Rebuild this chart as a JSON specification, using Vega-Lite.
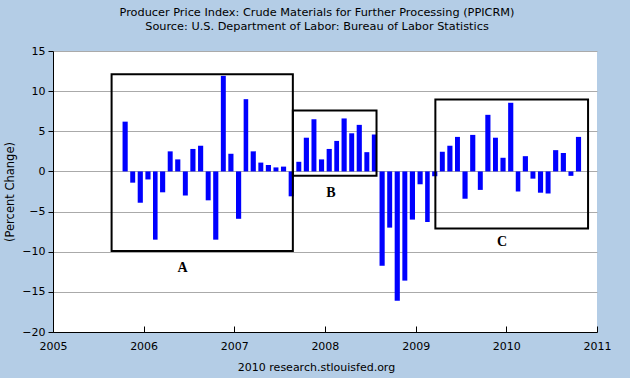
{
  "$schema": "https://vega.github.io/schema/vega-lite/v6.json",
  "width": 544,
  "height": 281,
  "autosize": {"type": "none"},
  "padding": {"left": 53, "top": 51, "right": 33, "bottom": 46},
  "background": "#b4cde6",
  "title": {
    "text": ["Producer Price Index: Crude Materials for Further Processing (PPICRM)", "Source: U.S. Department of Labor: Bureau of Labor Statistics"],
    "anchor": "middle",
    "fontSize": 11.3,
    "fontWeight": "normal",
    "color": "#000000",
    "lineHeight": 14,
    "offset": 13,
    "dx": -8
  },
  "config": {
    "font": "DejaVu Sans",
    "title": {"font": "DejaVu Sans"},
    "text": {"font": "Liberation Serif"},
    "view": {"fill": "#ffffff", "stroke": null},
    "axis": {"labelFont": "DejaVu Sans", "labelFontSize": 11, "labelColor": "#000000", "titleFont": "DejaVu Sans", "titleFontSize": 11, "titleFontWeight": "normal", "titleColor": "#000000", "domainColor": "#000000", "tickColor": "#000000"}
  },
  "datasets": {
    "ppi": [
      {"date": "2005-10-01", "value": 6.2},
      {"date": "2005-11-01", "value": -1.4},
      {"date": "2005-12-01", "value": -3.9},
      {"date": "2006-01-01", "value": -1.0},
      {"date": "2006-02-01", "value": -8.5},
      {"date": "2006-03-01", "value": -2.6},
      {"date": "2006-04-01", "value": 2.5},
      {"date": "2006-05-01", "value": 1.5},
      {"date": "2006-06-01", "value": -3.0},
      {"date": "2006-07-01", "value": 2.8},
      {"date": "2006-08-01", "value": 3.2},
      {"date": "2006-09-01", "value": -3.6},
      {"date": "2006-10-01", "value": -8.5},
      {"date": "2006-11-01", "value": 11.9},
      {"date": "2006-12-01", "value": 2.2},
      {"date": "2007-01-01", "value": -5.9},
      {"date": "2007-02-01", "value": 9.0},
      {"date": "2007-03-01", "value": 2.5},
      {"date": "2007-04-01", "value": 1.1},
      {"date": "2007-05-01", "value": 0.8},
      {"date": "2007-06-01", "value": 0.5},
      {"date": "2007-07-01", "value": 0.6},
      {"date": "2007-08-01", "value": -3.1},
      {"date": "2007-09-01", "value": 1.2},
      {"date": "2007-10-01", "value": 4.2},
      {"date": "2007-11-01", "value": 6.5},
      {"date": "2007-12-01", "value": 1.5},
      {"date": "2008-01-01", "value": 2.8},
      {"date": "2008-02-01", "value": 3.8},
      {"date": "2008-03-01", "value": 6.6},
      {"date": "2008-04-01", "value": 4.75},
      {"date": "2008-05-01", "value": 5.8},
      {"date": "2008-06-01", "value": 2.4},
      {"date": "2008-07-01", "value": 4.6},
      {"date": "2008-08-01", "value": -11.75},
      {"date": "2008-09-01", "value": -7.0},
      {"date": "2008-10-01", "value": -16.1},
      {"date": "2008-11-01", "value": -13.6},
      {"date": "2008-12-01", "value": -6.0},
      {"date": "2009-01-01", "value": -1.6},
      {"date": "2009-02-01", "value": -6.3},
      {"date": "2009-03-01", "value": -0.6},
      {"date": "2009-04-01", "value": 2.45},
      {"date": "2009-05-01", "value": 3.2},
      {"date": "2009-06-01", "value": 4.3},
      {"date": "2009-07-01", "value": -3.4},
      {"date": "2009-08-01", "value": 4.55},
      {"date": "2009-09-01", "value": -2.3},
      {"date": "2009-10-01", "value": 7.05},
      {"date": "2009-11-01", "value": 4.2},
      {"date": "2009-12-01", "value": 1.7},
      {"date": "2010-01-01", "value": 8.55},
      {"date": "2010-02-01", "value": -2.5},
      {"date": "2010-03-01", "value": 1.9},
      {"date": "2010-04-01", "value": -0.9},
      {"date": "2010-05-01", "value": -2.65},
      {"date": "2010-06-01", "value": -2.75},
      {"date": "2010-07-01", "value": 2.65},
      {"date": "2010-08-01", "value": 2.3},
      {"date": "2010-09-01", "value": -0.55},
      {"date": "2010-10-01", "value": 4.3}
    ],
    "boxes": [
      {"name": "A", "start": "2005-08-25", "end": "2007-08-25", "top": 12.1, "bottom": -9.9},
      {"name": "B", "start": "2007-08-25", "end": "2008-07-27", "top": 7.6, "bottom": -0.55},
      {"name": "C", "start": "2009-03-21", "end": "2010-11-26", "top": 8.95, "bottom": -7.1}
    ],
    "labels": [
      {"name": "A", "date": "2006-06-07", "value": -12.0},
      {"name": "B", "date": "2008-01-25", "value": -2.7},
      {"name": "C", "date": "2009-12-15", "value": -8.75}
    ]
  },
  "layer": [
    {
      "data": {"name": "ppi"},
      "mark": {"type": "bar", "color": "#0000ff", "width": {"band": 0.8}},
      "encoding": {
        "x": {
          "field": "date", "type": "temporal", "timeUnit": "utcyearmonth",
          "title": "2010 research.stlouisfed.org",
          "scale": {"type": "utc", "domain": ["2005-01-01", "2011-01-01"], "nice": false},
          "axis": {"values": ["2005-01-01", "2006-01-01", "2007-01-01", "2008-01-01", "2009-01-01", "2010-01-01", "2011-01-01"], "labelExpr": "utcFormat(datum.value, '%Y')", "grid": false, "tickSize": -6, "labelPadding": 14, "titlePadding": 10, "titleX": 263, "labelFlush": false, "labelOverlap": false}
        },
        "y": {
          "field": "value", "type": "quantitative",
          "title": "(Percent Change)",
          "scale": {"domain": [-20, 15], "nice": false, "zero": false},
          "axis": {"values": [-20, -15, -10, -5, 0, 5, 10, 15], "grid": true, "gridColor": "#aaaaaa", "gridWidth": 1, "tickSize": 5, "labelPadding": 3, "titlePadding": 6, "titleFontSize": 11.5}
        }
      }
    },
    {
      "data": {"name": "boxes"},
      "mark": {"type": "rect", "fill": null, "fillOpacity": 0, "stroke": "#000000", "strokeWidth": 2},
      "encoding": {
        "x": {"field": "start", "type": "temporal", "title": "2010 research.stlouisfed.org"},
        "x2": {"field": "end"},
        "y": {"field": "top", "type": "quantitative", "title": "(Percent Change)"},
        "y2": {"field": "bottom"}
      }
    },
    {
      "data": {"name": "labels"},
      "mark": {"type": "text", "font": "Liberation Serif", "fontWeight": "bold", "fontSize": 14, "color": "#000000"},
      "encoding": {
        "x": {"field": "date", "type": "temporal", "title": "2010 research.stlouisfed.org"},
        "y": {"field": "value", "type": "quantitative", "title": "(Percent Change)"},
        "text": {"field": "name"}
      }
    }
  ]
}
